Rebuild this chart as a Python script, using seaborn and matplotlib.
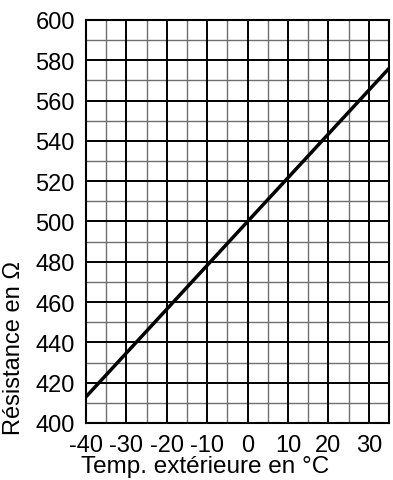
import matplotlib
matplotlib.use("Agg")
import matplotlib.pyplot as plt
import seaborn as sns
import pandas as pd
import numpy as np

# Data
temperature = [-40, 0, 35]
resistance = [413, 500, 576]
x_ticks = [-40, -30, -20, -10, 0, 10, 20, 30]
y_ticks = [400, 420, 440, 460, 480, 500, 520, 540, 560, 580, 600]
x_label = "Temp. extérieure en °C"
y_label = "Résistance en Ω"

sns.set_theme(style="white")
plt.rcParams['font.family'] = ['Liberation Sans', 'DejaVu Sans']
plt.rcParams['axes.unicode_minus'] = False

df = pd.DataFrame({"T": temperature, "R": resistance})

fig = plt.figure(figsize=(3.93, 4.81), dpi=100)
ax = fig.add_axes([86/393, 1-424/481, (389-86)/393, (424-21)/481])

# grid
for v in np.arange(-35, 35, 10):
    ax.axvline(v, color="#707070", lw=1.0, zorder=1)
for v in np.arange(410, 600, 20):
    ax.axhline(v, color="#707070", lw=1.0, zorder=1)
for v in x_ticks:
    ax.axvline(v, color="black", lw=1.4, zorder=1)
for v in y_ticks:
    ax.axhline(v, color="black", lw=1.4, zorder=1)

sns.lineplot(data=df, x="T", y="R", ax=ax, color="black", lw=2.5, zorder=3)

ax.set_xlim(-40, 35)
ax.set_ylim(400, 600)
ax.set_xticks(x_ticks)
ax.set_yticks(y_ticks)
ax.tick_params(axis="both", length=0, labelsize=17, colors="black")
ax.tick_params(axis="x", pad=8)
ax.tick_params(axis="y", pad=8)
ax.set_xlabel(x_label, fontsize=17.5, color="black")
ax.set_ylabel(y_label, fontsize=17, color="black")
ax.xaxis.set_label_coords((205-86)/303, (424-456)/403)
ax.yaxis.set_label_coords((25-86)/303, (424-348)/403)
for s in ax.spines.values():
    s.set_color("black")
    s.set_linewidth(1.5)

fig.savefig("out.png", dpi=100)
